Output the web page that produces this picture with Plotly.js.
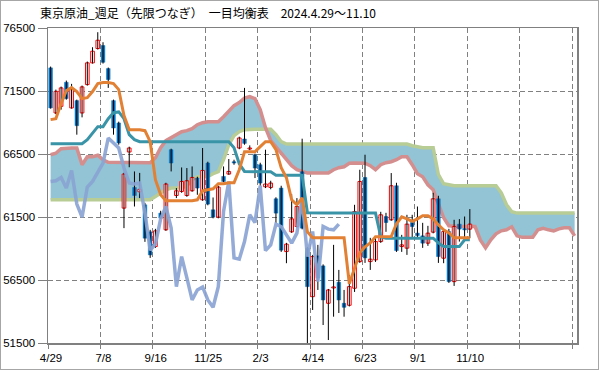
<!DOCTYPE html>
<html>
<head>
<meta charset="utf-8">
<script src="https://cdn.plot.ly/plotly-3.0.1.min.js"></script>
<style>
html,body{margin:0;padding:0;background:#fff;}
#wrap{position:relative;width:599px;height:370px;}
#chart{position:absolute;left:0;top:0;width:599px;height:370px;}
#frame{position:absolute;left:0;top:0;width:599px;height:370px;box-sizing:border-box;border:1px solid #a6a6a6;pointer-events:none;}
</style>
</head>
<body>
<div id="wrap"><div id="chart"></div><div id="frame"></div></div>
<script>
// ---- data (weekly candles, index 0 = 4/29) ----
const tickLabels = ["4/29","7/8","9/16","11/25","2/3","4/14","6/23","9/1","11/10","",""];
const yTickVals = [51500, 56500, 61500, 66500, 71500, 76500];
const yTickText = ["51500","56500","61500","66500","71500","76500"];

const openP = [73336,69758,70283,72191,70156,70736,69758,72008,73733,74870,
75109,73280,70736,68963,62206,66658,63844,63500,62468,60322,
59153,61808,60481,66841,63208,63526,63208,63581,64591,62866,
65783,62071,61490,64718,64909,65887,66976,67691,66896,66443,
65648,63899,63844,62945,63796,58756,60322,60743,65092,59026,
55178,58414,57619,54653,55870,56323,54653,54494,55846,57960,
64639,57960,58096,59550,61538,61276,63979,59153,59026,61061,
60219,60004,59424,60298,62945,58231,60346,56371,60934,60584,60537];

const highP = [73439,71611,71849,72326,72064,70816,71929,73837,74974,76166,
75371,73360,70816,69067,65012,67079,65116,65000,62627,60481,
60560,61991,64217,66920,63796,65434,65386,65513,64694,66976,
65887,63049,63979,65513,66101,66046,67874,71746,67183,66523,
65807,66841,64376,63064,63979,59447,63319,63001,67715,59129,
58493,59288,57738,55790,59288,57301,55711,56903,62468,65251,
66443,59845,59845,61912,61832,64988,64217,60083,61673,61673,
62333,61037,60799,63422,63184,60481,60560,61276,61332,61538,62127];

const lowP = [70100,69663,70021,70816,70100,68033,69409,71929,73678,74791,
73678,71746,68033,67238,60616,65450,62333,63000,59527,58255,
59050,61355,60401,65116,63001,63422,63104,63502,63263,62786,
62429,61395,61395,64257,64853,65648,66880,67238,66801,64591,
63979,63796,63700,61013,58732,57833,60242,60640,60520,51500,
54121,55711,52928,51736,53588,53882,53588,54399,55552,57857,
57857,57301,57937,59447,60322,61196,58732,58732,58493,59821,
59821,59050,59209,60203,57857,57833,56268,56029,59550,59686,59821];

const closeP = [70156,71476,71746,70895,71611,68749,71825,73733,74656,75530,
73781,72406,68566,67373,64909,66976,63208,63700,59821,58493,
60401,61411,64114,65783,63581,64321,64376,64639,63796,65195,
62524,61490,63875,64321,65116,65783,67771,67342,66976,65386,
64193,64114,64193,61808,58867,59344,61355,62333,60616,55973,
58358,56665,54916,55711,55949,54916,54335,55973,61935,64321,
58255,58151,59550,61673,61061,63979,58835,59288,60934,60743,
60028,59424,60219,62945,58358,60346,56371,60743,60537,60481,60934];

// 転換線
const tenkan = [69226,69305,70498,71531,71770,71452,70895,70975,71452,72088,
72167,72167,72088,71611,69544,68431,68431,68431,68351,67477,
64456,63263,62786,62786,62786,62786,62786,62786,62866,63581,
63661,63740,64138,64138,64217,64217,65251,66682,66682,66682,
67079,67477,67477,66841,65410,64615,62866,62468,63025,60322,
59845,59845,59845,59845,59845,59845,59845,56200,57460,58652,
59129,59447,59924,59948,59948,59948,60958,61514,61355,61156,
61355,61594,61594,61355,60878,60481,60242,59845,59845,59845,59845];

// 基準線
const kijun = [67318,67318,67318,67318,67318,67318,67318,67636,68192,68669,
68669,69305,69782,69838,69305,68033,67636,67477,67477,67477,
67477,67477,67477,67477,67477,67477,67477,67477,67477,67477,
67477,67477,67477,67477,67477,67000,65728,65116,65092,65092,
65092,65092,65092,64814,64814,64814,64814,64814,64814,61832,
61808,61808,61808,61808,61808,61808,61808,61808,61808,61808,
61808,61808,61808,59924,59821,59821,59821,59821,59821,59821,
59821,59821,59821,59821,59447,59153,59153,59153,59153,59686,59686];

// 先行スパン1
const spanA = [66443,66563,66920,66976,66976,66976,65648,66284,66284,66404,
66046,65847,65847,65847,65847,65847,65847,65847,65847,65807,
66205,67000,67556,67795,68113,68272,68351,68510,68828,68987,
69067,69067,69067,69464,69862,70339,70577,70935,71054,70895,
70021,68590,67556,67079,66523,66046,65569,65251,65092,64988,
64988,64988,64988,64988,65251,65410,65489,65768,65783,65783,
65768,65569,65251,65648,65807,65887,66046,66284,66284,65648,
64933,64694,64058,63661,62468,61435,60799,60743,60743,60743,
60743,60743,59686,59050,59686,60163,60401,60481,60719,60004,
59885,59885,59885,60481,60600,60481,60401,60560,60640,60640,60004];

// 先行スパン2
const spanB = [62866,62866,62866,62866,62866,62866,62866,62866,62866,62866,
62866,62866,62866,62866,62866,62866,62866,62866,62866,62866,
63128,63422,63661,63796,63796,63796,63979,64456,64694,64718,
64718,64933,65092,66046,67238,67954,68272,68431,68471,68471,
68471,68471,68471,68033,67477,67294,67294,67294,67294,67294,
67294,67294,67294,67294,67294,67294,67294,67294,67294,67294,
67294,67294,67294,67294,67294,67294,67294,67294,67294,67159,
67079,67000,67000,67000,64853,64138,64058,63979,63979,63979,
63979,63979,63979,63979,63979,63979,63422,62468,61912,61808,
61808,61808,61808,61808,61808,61808,61808,61808,61808,61808,61808];

const LAG = 25; // 遅行スパン shift

// ---- build traces ----
const idx = openP.map((_, i) => i);
const spanIdx = spanA.map((_, i) => i);

// cloud (base subplot)
const cloudB = {x: spanIdx, y: spanB, type: 'scatter', mode: 'lines', line: {width: 0, color: 'rgba(0,0,0,0)'}, xaxis: 'x', yaxis: 'y', hoverinfo: 'skip'};
const cloudA = {x: spanIdx, y: spanA, type: 'scatter', mode: 'lines', line: {width: 0, color: 'rgba(0,0,0,0)'}, fill: 'tonexty', fillcolor: 'rgb(146,196,213)', xaxis: 'x', yaxis: 'y', hoverinfo: 'skip'};
const lineB = {x: spanIdx, y: spanB, type: 'scatter', mode: 'lines', line: {width: 3.5, color: 'rgb(184,204,150)'}, xaxis: 'x', yaxis: 'y'};
const lineA = {x: spanIdx, y: spanA, type: 'scatter', mode: 'lines', line: {width: 3.5, color: 'rgb(212,142,142)'}, xaxis: 'x', yaxis: 'y'};

// candles (overlay subplot 2)
const wx = [], wy = [];
idx.forEach(i => { wx.push(i, i, null); wy.push(lowP[i], highP[i], null); });
const wicks = {x: wx, y: wy, type: 'scatter', mode: 'lines', line: {width: 1, color: '#000'}, xaxis: 'x2', yaxis: 'y2', connectgaps: false};

const upI = idx.filter(i => closeP[i] >= openP[i]);
const dnI = idx.filter(i => closeP[i] < openP[i]);
const upBars = {type: 'bar', x: upI, base: upI.map(i => openP[i]), y: upI.map(i => closeP[i] - openP[i]),
  width: 0.7, marker: {color: '#ffffff', line: {color: '#ff0000', width: 1}}, xaxis: 'x2', yaxis: 'y2'};
const dnBars = {type: 'bar', x: dnI, base: dnI.map(i => closeP[i]), y: dnI.map(i => openP[i] - closeP[i]),
  width: 0.7, marker: {color: '#0070c0', line: {color: '#0070c0', width: 0.5}}, xaxis: 'x2', yaxis: 'y2'};

// lines (overlay subplot 3)
const lagX = [], lagY = [];
for (let i = LAG; i < closeP.length; i++) { lagX.push(i - LAG); lagY.push(closeP[i]); }
const chikou = {x: lagX, y: lagY, type: 'scatter', mode: 'lines', line: {width: 3.5, color: 'rgba(138,164,210,0.92)'}, xaxis: 'x3', yaxis: 'y3'};
const kijunT = {x: idx, y: kijun, type: 'scatter', mode: 'lines', line: {width: 3, color: 'rgb(58,148,168)'}, xaxis: 'x3', yaxis: 'y3'};
const tenkanT = {x: idx, y: tenkan, type: 'scatter', mode: 'lines', line: {width: 3, color: 'rgb(226,128,52)'}, xaxis: 'x3', yaxis: 'y3'};

const xr = [-0.5, 100.45];
const yr = [51500, 76500];
const gridTicks = tickLabels.map((_, k) => k * 10 - 0.5);

const hiddenX = {range: xr, visible: false, fixedrange: true};
const hiddenY = {range: yr, visible: false, fixedrange: true};

const layout = {
  width: 599, height: 370,
  margin: {l: 48, r: 22, t: 28, b: 27, pad: 0},
  paper_bgcolor: '#ffffff', plot_bgcolor: '#ffffff',
  showlegend: false,
  barmode: 'overlay',
  title: {
    text: '東京原油_週足（先限つなぎ）　一目均衡表　2024.4.29～11.10',
    font: {family: '"Noto Sans CJK JP", "Noto Sans", sans-serif', size: 12, color: '#000'},
    xref: 'container', yref: 'container', x: 40 / 599, xanchor: 'left', y: 1 - 14 / 370, yanchor: 'middle'
  },
  xaxis: {
    range: xr, fixedrange: true,
    tickmode: 'array', tickvals: gridTicks, ticktext: tickLabels,
    ticks: 'outside', ticklen: 4, tickcolor: '#808080', tickwidth: 1,
    ticklabelshift: 3,
    showgrid: true, gridcolor: '#808080', gridwidth: 1, griddash: '5px,3px',
    showline: true, linecolor: '#808080', linewidth: 1.5, mirror: true,
    zeroline: false,
    tickfont: {family: '"Liberation Sans", Arial, sans-serif', size: 11.5, color: '#000'}
  },
  yaxis: {
    range: yr, fixedrange: true,
    tickmode: 'array', tickvals: yTickVals, ticktext: yTickText,
    ticks: 'outside', ticklen: 9, tickcolor: '#808080', tickwidth: 1,
    showgrid: true, gridcolor: '#808080', gridwidth: 1, griddash: '5px,3px',
    showline: true, linecolor: '#808080', linewidth: 1.5, mirror: true,
    zeroline: false,
    tickfont: {family: '"Liberation Sans", Arial, sans-serif', size: 11.5, color: '#000'}
  },
  xaxis2: Object.assign({overlaying: 'x'}, hiddenX),
  yaxis2: Object.assign({overlaying: 'y'}, hiddenY),
  xaxis3: Object.assign({overlaying: 'x'}, hiddenX),
  yaxis3: Object.assign({overlaying: 'y'}, hiddenY)
};

Plotly.newPlot('chart', [cloudB, cloudA, lineB, lineA, wicks, upBars, dnBars, chikou, kijunT, tenkanT], layout, {staticPlot: true, displayModeBar: false});
</script>
</body>
</html>
